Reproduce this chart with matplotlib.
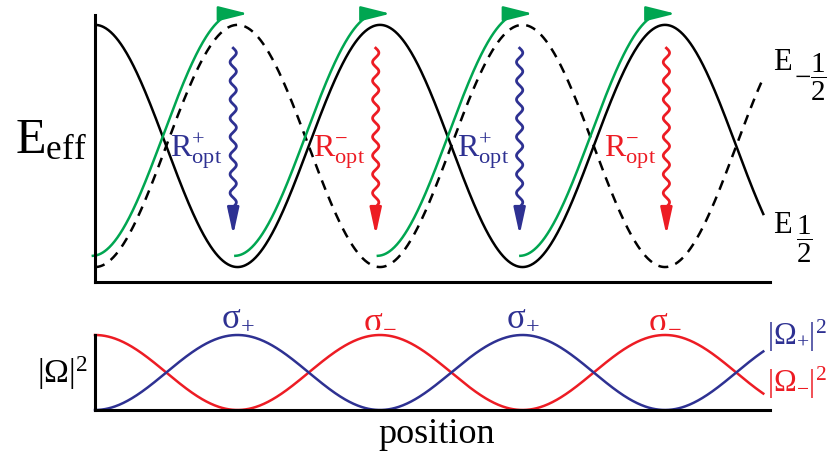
import numpy as np
import matplotlib.pyplot as plt

plt.rcParams['font.family'] = 'Liberation Serif'
plt.rcParams['mathtext.fontset'] = 'custom'
plt.rcParams['mathtext.rm'] = 'Liberation Serif'
plt.rcParams['mathtext.it'] = 'Liberation Serif:italic'
plt.rcParams['mathtext.default'] = 'rm'

BLUE = '#2e3192'
RED = '#ed1c24'
GREEN = '#00a651'

# position measured in units of lambda/4: the polarisation alternates every unit
x_max = 4.69
x_axis_end = 4.737
level_low, level_high = 0.056, 0.963      # light-shifted sublevel energies

# atom trajectory (green) drawn just left of / above the potential it climbs
green_shift = 0.02
green_lift = 0.042
green_stop = 0.09                         # trajectory ends this far before the hilltop

# optical pumping events at the potential hills
pump_x = [0.97, 1.97, 2.98, 4.01]
pump_sign = ['+', '-', '+', '-']
pump_color = [BLUE, RED, BLUE, RED]
pump_top, pump_tip = 0.876, 0.176

# polarisation labels at the intensity maxima
sigma_x = [1, 2, 3, 4]
sigma_sign = ['+', '-', '+', '-']
sigma_color = [BLUE, RED, BLUE, RED]


def e_half(x):
    return level_low + (level_high - level_low) * np.cos(np.pi * x / 2) ** 2


def e_minus_half(x):
    return level_low + (level_high - level_low) * np.sin(np.pi * x / 2) ** 2


fig = plt.figure(figsize=(8.27, 4.55), dpi=100)
ax = fig.add_axes([95 / 827, 1 - 282 / 455, 675 / 827, 267 / 455])
ax_b = fig.add_axes([95 / 827, 1 - 410 / 455, 675 / 827, 75 / 455])

for a in (ax, ax_b):
    a.set_xlim(0, x_axis_end)
    a.set_ylim(0, 1)
    a.spines['top'].set_visible(False)
    a.spines['right'].set_visible(False)
    a.spines['left'].set_linewidth(2.2)
    a.spines['bottom'].set_linewidth(2.2)
    a.set_xticks([])
    a.set_yticks([])

x = np.linspace(0, x_max, 800)

# potentials
ax.plot(x, e_half(x), color='k', lw=1.8)
ax.plot(x, e_minus_half(x), color='k', lw=1.8, dashes=(4, 3))

# atom climbing the hills
arrow_kw = dict(arrowstyle='-|>,head_length=1.8,head_width=0.45', color=GREEN,
                lw=1.8, shrinkA=0, shrinkB=0, mutation_scale=10)
for k in range(4):
    curve = e_minus_half if k % 2 == 0 else e_half
    xs = np.linspace(k - 0.015, k + 1 - green_stop, 200)
    ax.plot(xs, curve(xs + green_shift) + green_lift, color=GREEN, lw=1.8, clip_on=False)
    y_top = level_high + green_lift
    ax.annotate('', xy=(k + 1 + 0.074, y_top), xytext=(k + 1 - 0.102, y_top),
                arrowprops=arrow_kw, annotation_clip=False)

# optical pumping (wavy arrows)
for xp, sign, c in zip(pump_x, pump_sign, pump_color):
    ys = np.linspace(pump_top, pump_tip + 0.07, 400)
    xs = xp + 0.022 * np.sin(2 * np.pi * (pump_top - ys) / 0.07)
    ax.plot(xs, ys, color=c, lw=2.0)
    ax.annotate('', xy=(xp, pump_tip), xytext=(xp, pump_tip + 0.09),
                arrowprops=dict(arrowstyle='-|>,head_length=1.6,head_width=0.35', color=c,
                                lw=2.0, shrinkA=0, shrinkB=0, mutation_scale=10))
    ax.text(xp - 0.075, 0.47, rf'$R^{{{sign}}}_{{opt}}$', color=c, fontsize=23,
            ha='right', va='baseline')

# light intensities
ax_b.plot(x, np.cos(np.pi * x / 2) ** 2, color=RED, lw=1.8, clip_on=False)
ax_b.plot(x, np.sin(np.pi * x / 2) ** 2, color=BLUE, lw=1.8, clip_on=False)
for sx, s, c in zip(sigma_x, sigma_sign, sigma_color):
    ax_b.text(sx, 1.0, rf'$\sigma_{{{s}}}$', color=c, fontsize=25, ha='center', va='bottom')

# labels
fig.text(15 / 827, 1 - 153 / 455, r'$E_{eff}$', fontsize=36, va='baseline')
fig.text(773 / 827, 1 - 70 / 455, 'E', fontsize=22, va='baseline')
fig.text(794 / 827, 1 - 77 / 455, r'$-\dfrac{1}{2}$', fontsize=21, va='center')
fig.text(773 / 827, 1 - 233 / 455, 'E', fontsize=22, va='baseline')
fig.text(796 / 827, 1 - 239 / 455, r'$\dfrac{1}{2}$', fontsize=21, va='center')
fig.text(88 / 827, 1 - 383 / 455, r'$|\Omega|^{2}$', fontsize=24, ha='right', va='baseline')
fig.text(767 / 827, 1 - 345 / 455, r'$|\Omega_{+}|^{2}$', fontsize=22, color=BLUE, va='baseline')
fig.text(767 / 827, 1 - 392 / 455, r'$|\Omega_{-}|^{2}$', fontsize=22, color=RED, va='baseline')
fig.text(437 / 827, 1 - 443 / 455, 'position', fontsize=26, ha='center', va='baseline')

fig.savefig('out.png', dpi=100)
